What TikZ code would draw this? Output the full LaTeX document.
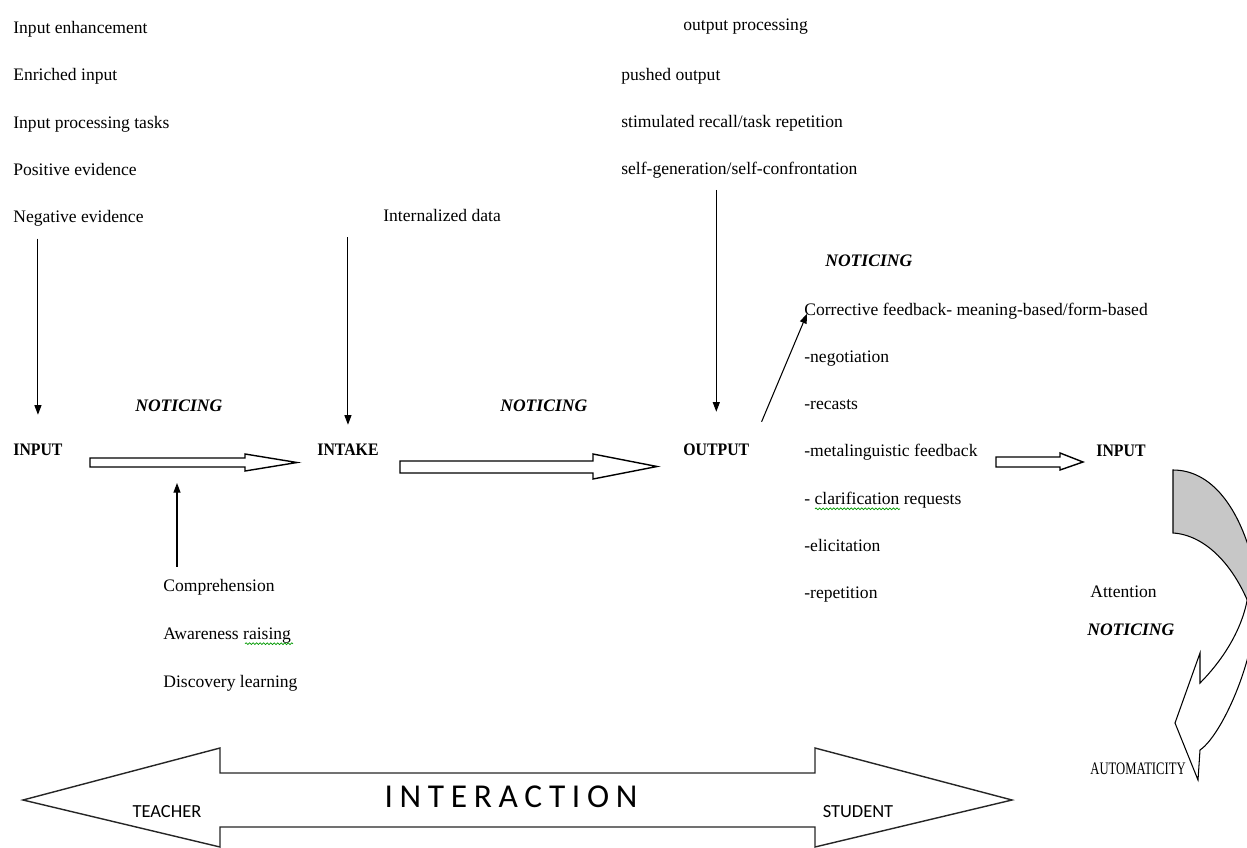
\documentclass[tikz,border=0pt]{standalone}
\usepackage{fontspec}
\setmainfont{Liberation Serif}
\newfontfamily\capsfont[FakeStretch=0.9]{Liberation Serif}
\newfontfamily\autofont[FakeStretch=0.72]{Liberation Serif}
\newfontfamily\calfont{Carlito}
\usetikzlibrary{matrix,arrows.meta,decorations.pathmorphing}

\begin{document}
\begin{tikzpicture}[x=0.02cm, y=-0.02cm,
    font=\fontsize{10}{12}\selectfont,
    txt/.style={anchor=west, inner sep=0pt, text height=7pt, text depth=2pt},
    head/.style={txt, font=\fontsize{10}{12}\selectfont\capsfont\bfseries},
    notice/.style={txt, font=\fontsize{10}{12}\selectfont\bfseries\itshape},
    list/.style={matrix of nodes, anchor=north west, inner sep=0pt,
      nodes={txt}},
    arr/.style={-{Triangle[length=5.5pt,width=4pt]}, line width=0.6pt},
    hollow/.style={draw, fill=white, line width=0.8pt},
    spell/.style={green!60!black, line width=0.4pt, decorate,
      decoration={snake, amplitude=0.5pt, segment length=2pt}}]
  \useasboundingbox (0,0) rectangle (1247,848);
  \clip (0,0) rectangle (1247,848);

    \matrix (inl) [list, row sep=0.6325cm] at (13,20.5) {
      Input enhancement \\
      Enriched input \\
      Input processing tasks \\
      Positive evidence \\
      Negative evidence \\
    };
    \matrix (outl) [list, row sep=0.6225cm] at (621,67.5) {
      pushed output \\
      stimulated recall/task repetition \\
      self-generation/self-confrontation \\
    };
    \matrix (fbl) [list, row sep=0.629cm] at (804,302.5) {
      Corrective feedback- meaning-based/form-based \\
      -negotiation \\
      -recasts \\
      -metalinguistic feedback \\
      - clarification requests \\
      -elicitation \\
      -repetition \\
    };
    \matrix (obl) [list, row sep=0.6425cm] at (163,578.5) {
      Comprehension \\
      Awareness raising \\
      Discovery learning \\
    };

    \node[txt] (outproc) at (683,26) {output processing};
    \node[txt] (intdata) at (383,217) {Internalized data};
    \node[head] (in1) at (13,451) {INPUT};
    \node[head] (intake) at (317,451) {INTAKE};
    \node[head] (output) at (683,451) {OUTPUT};
    \node[head] (in2) at (1096,452) {INPUT};
    \node[notice] (not1) at (135,407) {NOTICING};
    \node[notice] (not2) at (500,407) {NOTICING};
    \node[notice] (not3) at (825,262) {NOTICING};
    \node[notice] (not4) at (1087,631) {NOTICING};
    \node[txt] (attn) at (1090,593) {Attention};
    \node[txt, font=\fontsize{10}{12}\selectfont\autofont] (autom) at (1090,770) {AUTOMATICITY};

    \draw[hollow] (90,458) -- (245,458) -- (245,454) -- (297,462.5) -- (245,471)
      -- (245,467) -- (90,467) -- cycle;
    \draw[hollow] (400,461) -- (593,461) -- (593,454) -- (657,466.5) -- (593,479)
      -- (593,473) -- (400,473) -- cycle;
    \draw[hollow] (996,457) -- (1060,457) -- (1060,453) -- (1083,462) -- (1060,470)
      -- (1060,467) -- (996,467) -- cycle;

    \draw[arr, shorten <=0.24cm, shorten >=0.56cm] (in1.north |- inl-5-1.south) -- (in1.north);
    \draw[arr, shorten <=0.24cm, shorten >=0.36cm] (intake.north |- intdata.south) -- (intake.north);
    \draw[arr, shorten <=0.24cm, shorten >=0.62cm] (output.north |- outl-3-1.south) -- (output.north);
    \coordinate (up) at (177,483);
    \draw[arr, shorten <=0.24cm] (obl-1-1.north -| up) -- (up);
    \draw[arr] ([shift={(12,-21)}]output.north east) -- ([shift={(3,3)}]fbl-1-1.west);

    \draw[spell] ([shift={(11,9)}]fbl-5-1.west) -- ++(85,0);
    \draw[spell] ([shift={(82,9)}]obl-2-1.west) -- ++(48,0);

    \filldraw[fill=black!22, line width=0.6pt] (1173,470) .. controls (1210,470) and (1240,505) .. (1255,570)
      -- (1252,612) .. controls (1235,565) and (1205,535) .. (1173,533) -- cycle;
    \filldraw[fill=white, line width=0.6pt] (1249,585) .. controls (1247,625) and (1222,661) .. (1200,683)
      -- (1200,653) -- (1175,723) -- (1198,780) -- (1200,750)
      .. controls (1222,735) and (1255,660) .. (1255,610) -- cycle;

    \draw[hollow, draw=black!85] (23,800) -- (220,748) -- (220,773) -- (815,773) -- (815,748)
      -- (1012,800) -- (815,847) -- (815,827) -- (220,827) -- (220,847) -- cycle;
    \node[font=\calfont\fontsize{10.5}{12}\selectfont] (teacher) at (167,812) {TEACHER};
    \node[font=\calfont\fontsize{10.5}{12}\selectfont] (student) at (858,812) {STUDENT};
    \node[font=\calfont\fontsize{19}{22}\selectfont\addfontfeature{LetterSpace=20}] (interact)
      at (511,797) {INTERACTION};
  \end{tikzpicture}
\end{document}
